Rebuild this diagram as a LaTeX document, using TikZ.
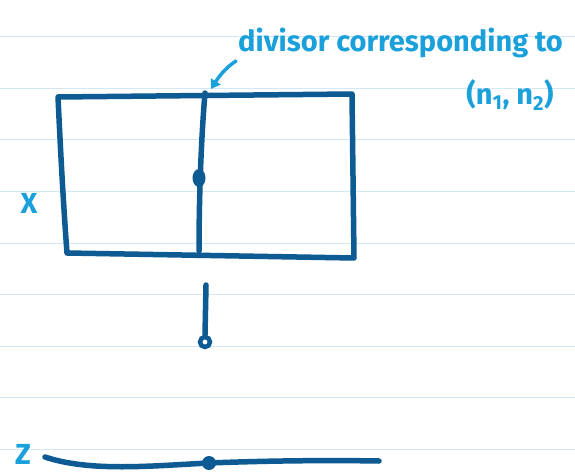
\documentclass[tikz,border=0pt]{standalone}
\usepackage{fontspec}
\setmainfont{Fira Sans}
\usetikzlibrary{arrows.meta}
\definecolor{ink}{HTML}{0E5A93}
\definecolor{pen}{HTML}{1AA0DA}
\definecolor{rulecol}{HTML}{D3E8F6}
\begin{document}
\begin{tikzpicture}[x=1pt,y=-1pt,
  stroke/.style={draw=ink,line width=5.5pt,line cap=round,line join=round},
  lbl/.style={text=pen,font=\bfseries\fontsize{29}{31}\selectfont,inner sep=0pt},
  ruleline/.style={draw=rulecol,line width=1pt}]
\useasboundingbox (0,0) rectangle (575,473);
\fill[white] (0,0) rectangle (575,473);
\foreach \y in {37,88.5,140,191.5,243,294.5,346,397.5,449} \draw[ruleline] (0,\y) -- (575,\y);
% upper variety
\coordinate (tl) at (58,97);
\coordinate (tr) at (352,94);
\coordinate (br) at (354,258);
\coordinate (bl) at (67,253);
\draw[stroke] (tl) -- (tr) -- (br) -- (bl) .. controls (63,200) and (60,140) .. (tl);
\coordinate (mtop) at (205,93);
\coordinate (mbot) at (199,251);
\draw[stroke] (mtop) .. controls (201,140) and (199,200) .. (mbot);
\fill[ink] (199,178) ellipse (6.5pt and 9pt);
% map
\coordinate (vtop) at (206,285);
\coordinate (vbot) at (205,335);
\draw[stroke] (vtop) -- (vbot);
\draw[ink,line width=4.5pt] (205,342) circle (5pt);
% lower variety
\coordinate (zs) at (45,457);
\coordinate (zd) at (209,463);
\coordinate (ze) at (379,461);
\draw[stroke] (zs) .. controls (90,472) and (150,466) .. (zd) .. controls (260,461) and (320,460) .. (ze);
\fill[ink] (zd) ellipse (7pt and 7pt);
% labels
\node[lbl,anchor=west] (lab) at (238,43) {divisor corresponding to};
\node[lbl] (pair) at (510,95) {(n\textsubscript{1}, n\textsubscript{2})};
\node[lbl] (xl) at (29,203) {X};
\node[lbl] (zl) at (23,454) {Z};
\coordinate (atail) at (236,61);
\coordinate (ahead) at (211,89);
\draw[pen,line width=3.5pt,line cap=round,-{Triangle[length=9pt,width=11pt]}] (atail) .. controls (225,68) and (218,78) .. (ahead);
\end{tikzpicture}
\end{document}
